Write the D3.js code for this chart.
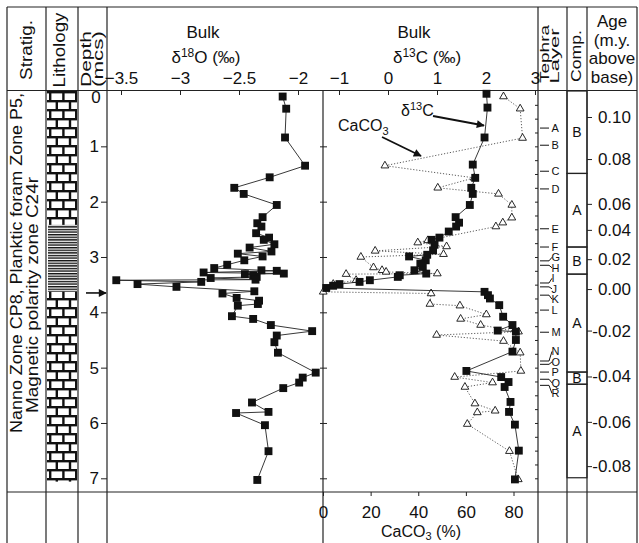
<!DOCTYPE html>
<html>
<head>
<meta charset="utf-8">
<script src="https://d3js.org/d3.v7.min.js"></script>
<style>
body { margin:0; background:#fff; }
svg text { font-family: "Liberation Sans", Arial, Helvetica, sans-serif; fill:#111; }
.frame line { stroke:#222; stroke-width:1.2; }
.axis path { display:none; }
.axis line { stroke:#222; stroke-width:1; }
.axis text { font-size:17px; fill:#111; font-family:"Liberation Sans", Arial, sans-serif; }
</style>
</head>
<body>
<svg id="chart" width="639" height="543"></svg>
<script>
// bulk d18O (depth in mcs, per mil)
var o18Depth = [0.10,0.32,0.84,1.35,1.56,1.75,1.86,2.06,2.28,2.39,2.45,2.57,2.65,2.69,2.77,2.83,2.90,2.94,2.99,3.06,3.14,3.20,3.24,3.25,3.28,3.30,3.31,3.33,3.36,3.38,3.41,3.42,3.45,3.49,3.54,3.62,3.66,3.74,3.79,3.85,3.88,4.07,4.12,4.23,4.34,4.42,4.54,4.73,5.09,5.18,5.27,5.37,5.63,5.80,5.82,6.04,6.51,7.03];
var o18Value = [-2.13,-2.10,-2.11,-1.94,-2.24,-2.54,-2.46,-2.18,-2.30,-2.345,-2.31,-2.355,-2.245,-2.29,-2.20,-2.41,-2.225,-2.51,-2.30,-2.455,-2.60,-2.71,-2.31,-2.18,-2.80,-2.12,-2.45,-2.38,-2.35,-2.74,-2.36,-3.54,-2.82,-3.36,-3.03,-2.37,-2.64,-2.52,-2.33,-2.34,-2.51,-2.56,-2.38,-2.23,-1.88,-2.18,-2.20,-2.17,-1.85,-1.96,-1.99,-2.125,-2.39,-2.25,-2.525,-2.28,-2.25,-2.345];

// bulk d13C (per mil)
var c13Depth = [0.05,0.30,0.84,1.33,1.57,1.75,1.86,2.06,2.28,2.38,2.45,2.54,2.65,2.69,2.78,2.88,2.96,2.99,3.06,3.12,3.18,3.24,3.30,3.33,3.36,3.42,3.45,3.49,3.52,3.56,3.63,3.69,3.75,3.87,4.08,4.23,4.33,4.35,4.50,4.71,5.06,5.17,5.26,5.35,5.62,5.80,6.03,6.50,7.02];
var c13Value = [2.01,2.03,1.97,1.73,1.78,1.70,1.73,1.67,1.38,1.45,1.39,1.24,1.05,0.89,0.95,0.92,0.80,0.43,0.77,0.66,0.71,0.54,0.78,0.24,0.20,-0.37,-0.58,-0.99,-1.12,-1.26,1.97,2.04,2.08,2.27,2.35,2.54,2.24,2.61,2.61,2.54,1.60,2.31,2.46,2.38,2.50,2.47,2.59,2.67,2.59];

// CaCO3 (%)
var carbDepth = [0.10,0.32,0.85,1.35,1.57,1.75,1.86,2.06,2.29,2.38,2.45,2.70,2.74,2.81,2.89,2.95,3.00,3.19,3.24,3.27,3.30,3.31,3.42,3.49,3.63,3.66,3.85,3.88,4.04,4.12,4.23,4.35,4.41,4.52,4.73,5.06,5.17,5.27,5.35,5.65,5.78,5.81,6.02,6.51,7.02];
var carbValue = [75.8,82.8,83.8,26.0,63.5,48.2,73.7,79.3,79.3,75.5,72.6,44.0,39.8,51.9,21.9,50.6,15.9,21.2,24.8,26.5,48.0,9.7,13.9,4.3,0.1,45.4,44.9,57.5,68.6,57.8,66.2,82.1,47.7,75.8,82.8,83.1,55.3,71.2,59.6,63.8,72.3,64.8,60.6,78.3,82.0];

var o18Ticks = [-3.5,-3,-2.5,-2];
var c13Ticks = [-1,0,1,2,3];
var carbTicks = [0,20,40,60,80];
var depthTicks = [1,2,3,4,5,6,7];

var tephraNames = ["A","B","C","D","E","F","G","H","I","J","K","L","M","N","O","P","Q","R"];
var tephraDepth = [0.67,0.98,1.45,1.77,2.49,2.82,3.07,3.15,3.47,3.54,3.69,3.96,4.36,4.88,4.94,5.08,5.21,5.32];

var compNames = ["B","A","B","A","B","A"];
var compTop = [0,1.49,2.82,3.31,5.08,5.30];
var compBase = [1.49,2.82,3.31,5.08,5.30,6.99];

var lithKind = ["limestone","laminated","limestone"];
var lithTop = [0,2.42,3.63];
var lithBase = [2.42,3.63,7.06];

var ageLabels = ["0.10","0.08","0.06","0.04","0.02","0.00","-0.02","-0.04","-0.06","-0.08"];
var ageDepth = [0.47,1.23,2.04,2.51,3.04,3.58,4.33,5.16,5.98,6.78];

var boundaryDepth = 3.65;

var svg = d3.select("#chart");
var ink = "#111";

// column edges
var X0 = 7, XLITH = 46, XDEP = 78, XO = 107, XC = 323, XT = 538, XCOMP = 567, XAGE = 587, XR = 637;
var YTOP = 7, YHEAD = 91, YBOT = 492, H = 543;

var y = d3.scaleLinear().domain([0,7]).range([YHEAD, 478.3]);
var xO = d3.scaleLinear().domain([-3.5,-2]).range([121,298]);
var xC = d3.scaleLinear().domain([-1,3]).range([339,535]);
var xCarb = d3.scaleLinear().domain([0,80]).range([323,513.5]);

// lithology patterns
var defs = svg.append("defs");
var brick = defs.append("pattern").attr("id","brick").attr("patternUnits","userSpaceOnUse")
  .attr("x",47).attr("y",YHEAD).attr("width",30).attr("height",18);
brick.append("rect").attr("width",30).attr("height",18).attr("fill","#fff");
brick.append("rect").attr("x",0).attr("y",0).attr("width",30).attr("height",2.4).attr("fill",ink);
brick.append("rect").attr("x",0).attr("y",9).attr("width",30).attr("height",2.4).attr("fill",ink);
[2,15.2,28].forEach(function(v){ brick.append("rect").attr("x",v).attr("y",0).attr("width",2.4).attr("height",9).attr("fill",ink); });
[8.6,21.8].forEach(function(v){ brick.append("rect").attr("x",v).attr("y",9).attr("width",2.4).attr("height",9).attr("fill",ink); });

var lam = defs.append("pattern").attr("id","laminated").attr("patternUnits","userSpaceOnUse")
  .attr("x",47).attr("y",0).attr("width",30).attr("height",2.6);
lam.append("rect").attr("width",30).attr("height",2.6).attr("fill","#fff");
lam.append("rect").attr("x",1).attr("y",0).attr("width",29).attr("height",1.4).attr("fill",ink);

svg.append("g").selectAll("rect").data(lithKind).join("rect")
  .attr("x",47).attr("width",30)
  .attr("y",function(d,i){ return y(lithTop[i]); })
  .attr("height",function(d,i){ return y(lithBase[i]) - y(lithTop[i]); })
  .attr("fill",function(d){ return "url(#" + (d === "limestone" ? "brick" : "laminated") + ")"; });

// frame
var frame = svg.append("g").attr("class","frame");
function hline(x1,x2,yy){ frame.append("line").attr("x1",x1).attr("x2",x2).attr("y1",yy).attr("y2",yy); }
function vline(xx,y1,y2){ frame.append("line").attr("x1",xx).attr("x2",xx).attr("y1",y1).attr("y2",y2); }
hline(X0,XR,YTOP); hline(X0,XR,YHEAD-0.5); hline(X0,XR,YBOT);
[X0,XLITH,XDEP,XO,XT,XCOMP,XAGE,XR].forEach(function(v){ vline(v,YTOP,H); });
vline(XC,YHEAD,H);

// header text
function vtext(txt,cx,cy,size,len){
  var t = svg.append("text").attr("transform","translate(" + cx + "," + cy + ") rotate(-90)")
    .attr("text-anchor","middle").attr("font-size",size).text(txt);
  if (len) t.attr("textLength",len).attr("lengthAdjust","spacingAndGlyphs");
  return t;
}
vtext("Stratig.",32,50,17,60);
vtext("Lithology",65,50,17,75);
vtext("Depth",91,59,14,56);
vtext("(mcs)",103,59,14,56);
vtext("Tephra",548.5,54,13,58);
vtext("Layer",558.5,56,13,55);
vtext("Comp.",581,56,15,52);

["Age","(m.y.","above","base)"].forEach(function(s,i){
  svg.append("text").attr("x",612).attr("y",27 + i*18.7).attr("text-anchor","middle").attr("font-size",17).text(s);
});

function headTitle(cx, cx2, iso, el){
  svg.append("text").attr("x",cx).attr("y",38).attr("text-anchor","middle").attr("font-size",17).text("Bulk");
  var t = svg.append("text").attr("x",cx2).attr("y",63).attr("text-anchor","middle").attr("font-size",17);
  t.append("tspan").text("δ");
  t.append("tspan").attr("font-size",12).attr("dy",-6).text(iso);
  t.append("tspan").attr("dy",6).text(el + " (‰)");
}
headTitle(203, 206, "18", "O");
headTitle(414, 427, "13", "C");

// stratigraphy text
vtext("Nanno Zone CP8, Planktic foram Zone P5,",22,263,16,340);
vtext("Magnetic polarity zone C24r",38,295,16,236);

// axes
svg.append("g").attr("class","axis").attr("transform","translate(0," + YHEAD + ")")
  .call(d3.axisTop(xO).tickValues(o18Ticks).tickSizeInner(-4).tickSizeOuter(0).tickPadding(7).tickFormat(d3.format("")));
svg.append("g").attr("class","axis").attr("transform","translate(0," + YHEAD + ")")
  .call(d3.axisTop(xC).tickValues(c13Ticks).tickSizeInner(-4).tickSizeOuter(0).tickPadding(7).tickFormat(d3.format("d")));
svg.append("g").attr("class","axis").attr("transform","translate(" + XO + ",0)")
  .call(d3.axisLeft(y).tickValues(depthTicks).tickSizeInner(6).tickSizeOuter(0).tickPadding(2).tickFormat(d3.format("d")));
svg.append("text").attr("x",96).attr("y",103).attr("text-anchor","middle").attr("font-size",17).text("0");
svg.append("g").attr("class","axis").attr("transform","translate(" + (XC - 3) + ",0)")
  .call(d3.axisRight(y).tickValues(depthTicks).tickSizeInner(7).tickSizeOuter(0).tickFormat(""));
svg.append("g").attr("class","axis").attr("transform","translate(" + XT + ",0)")
  .call(d3.axisLeft(y).tickValues(d3.range(0.25,7.01,0.25)).tickSizeInner(3).tickSizeOuter(0).tickFormat(""));
svg.append("g").attr("class","axis").attr("transform","translate(0," + YBOT + ")")
  .call(d3.axisBottom(xCarb).tickValues(carbTicks).tickSizeInner(4).tickSizeOuter(0).tickPadding(10).tickFormat(d3.format("d")));

var ageAxis = svg.append("g").attr("class","axis").attr("transform","translate(" + XAGE + ",0)")
  .call(d3.axisRight(y).tickValues(ageDepth).tickSizeInner(5).tickSizeOuter(0)
    .tickFormat(function(d,i){ return ageLabels[i]; }));
ageAxis.selectAll("text").attr("text-anchor","end").attr("x",44);

// CaCO3 axis title
var ct = svg.append("text").attr("x",421).attr("y",537).attr("text-anchor","middle").attr("font-size",16);
ct.append("tspan").text("CaCO");
ct.append("tspan").attr("font-size",11).attr("dy",3).text("3");
ct.append("tspan").attr("dy",-3).text(" (%)");

// boundary arrow
defs.append("marker").attr("id","head").attr("viewBox","0 0 10 10").attr("refX",9).attr("refY",5)
  .attr("markerWidth",10).attr("markerHeight",8).attr("markerUnits","userSpaceOnUse").attr("orient","auto")
  .append("path").attr("d","M0,0L10,5L0,10z").attr("fill",ink);
svg.append("line").attr("x1",86).attr("x2",106).attr("y1",y(boundaryDepth)).attr("y2",y(boundaryDepth))
  .attr("stroke",ink).attr("stroke-width",1.6).attr("marker-end","url(#head)");

// d18O series
var o18 = o18Depth.map(function(d,i){ return [o18Value[i], d]; });
svg.append("path").datum(o18)
  .attr("d", d3.line().x(function(d){ return xO(d[0]); }).y(function(d){ return y(d[1]); }))
  .attr("fill","none").attr("stroke","#222").attr("stroke-width",0.9);
var sq = d3.symbol().type(d3.symbolSquare).size(62);
svg.append("g").selectAll("path").data(o18).join("path")
  .attr("transform",function(d){ return "translate(" + xO(d[0]) + "," + y(d[1]) + ")"; })
  .attr("d",sq).attr("fill",ink);

// CaCO3 series
var carb = carbDepth.map(function(d,i){ return [carbValue[i], d]; });
svg.append("path").datum(carb)
  .attr("d", d3.line().x(function(d){ return xCarb(d[0]); }).y(function(d){ return y(d[1]); }))
  .attr("fill","none").attr("stroke","#333").attr("stroke-width",0.8).attr("stroke-dasharray","1.2,1.8");
var tri = d3.symbol().type(d3.symbolTriangle).size(26);
svg.append("g").selectAll("path").data(carb).join("path")
  .attr("transform",function(d){ return "translate(" + xCarb(d[0]) + "," + y(d[1]) + ")"; })
  .attr("d",tri).attr("fill","#fff").attr("stroke",ink).attr("stroke-width",0.9);

// d13C series
var c13 = c13Depth.map(function(d,i){ return [c13Value[i], d]; });
svg.append("path").datum(c13)
  .attr("d", d3.line().x(function(d){ return xC(d[0]); }).y(function(d){ return y(d[1]); }))
  .attr("fill","none").attr("stroke","#222").attr("stroke-width",0.9);
svg.append("g").selectAll("path").data(c13).join("path")
  .attr("transform",function(d){ return "translate(" + xC(d[0]) + "," + y(d[1]) + ")"; })
  .attr("d",sq).attr("fill",ink);

// series annotations
var a1 = svg.append("text").attr("x",401).attr("y",116).attr("font-size",16);
a1.append("tspan").text("δ");
a1.append("tspan").attr("font-size",11).attr("dy",-6).text("13");
a1.append("tspan").attr("dy",6).text("C");
svg.append("line").attr("x1",433).attr("y1",116).attr("x2",484).attr("y2",125.5)
  .attr("stroke",ink).attr("stroke-width",1.8).attr("marker-end","url(#head)");
var a2 = svg.append("text").attr("x",338).attr("y",131).attr("font-size",16);
a2.append("tspan").text("CaCO");
a2.append("tspan").attr("font-size",11).attr("dy",4).text("3");
svg.append("line").attr("x1",382).attr("y1",137).attr("x2",421).attr("y2",156)
  .attr("stroke",ink).attr("stroke-width",1.8).attr("marker-end","url(#head)");

// tephra layers with spread labels
var labY = tephraDepth.map(function(d){ return y(d); });
var gap = 10.5;
for (var it = 0; it < 200; it++) {
  for (var i = 1; i < labY.length; i++) {
    var dd = labY[i] - labY[i-1];
    if (dd < gap) { var o = (gap - dd) / 2; labY[i-1] -= o; labY[i] += o; }
  }
}
var teph = svg.append("g");
tephraNames.forEach(function(n,i){
  var ly = y(tephraDepth[i]);
  var pts = [[540,ly],[549,ly]];
  if (Math.abs(labY[i] - ly) > 1.5) pts.push([552,labY[i]]);
  teph.append("path").attr("d",d3.line()(pts)).attr("fill","none").attr("stroke",ink).attr("stroke-width",1);
  teph.append("text").attr("x",551.5).attr("y",labY[i] + 4).attr("font-size",11).text(n);
});

// composition units
var comp = svg.append("g");
compNames.forEach(function(n,i){
  comp.append("rect").attr("x",XCOMP).attr("width",XAGE - XCOMP)
    .attr("y",y(compTop[i])).attr("height",y(compBase[i]) - y(compTop[i]))
    .attr("fill","none").attr("stroke","#222").attr("stroke-width",1.2);
  comp.append("text").attr("x",(XCOMP + XAGE)/2).attr("y",(y(compTop[i]) + y(compBase[i]))/2 + 5)
    .attr("text-anchor","middle").attr("font-size",14).text(n);
});
</script>
</body>
</html>
